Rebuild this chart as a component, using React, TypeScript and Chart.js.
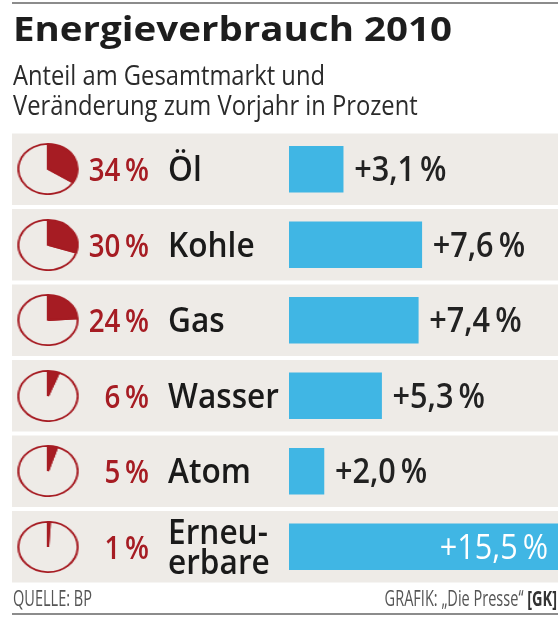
import React, { useEffect, useRef } from 'react';
import { Chart, registerables } from 'chart.js';

Chart.register(...registerables);

// ---------- data ----------
const categories: (string | string[])[] = ['Öl', 'Kohle', 'Gas', 'Wasser', 'Atom', ['Erneu-', 'erbare']];
const shares = [34, 30, 24, 6, 5, 1];
const changes = [3.1, 7.6, 7.4, 5.3, 2.0, 15.5];

const TITLE = 'Energieverbrauch 2010';
const SUBTITLE = ['Anteil am Gesamtmarkt und', 'Veränderung zum Vorjahr in Prozent'];
const SOURCE = 'QUELLE: BP';
const CREDIT = 'GRAFIK: \u201EDie Presse\u201C ';
const CREDIT_TAG = '[GK]';

// ---------- style ----------
const W = 558;
const H = 619;
const RED = '#a61c23';
const BLUE = '#40b6e4';
const ROW_BG = '#eeebe7';
const INK = '#1a1a1a';
const FONT = "'Open Sans', 'DejaVu Sans', sans-serif";
const PIE = 52;

const fmtShare = (v: number) => `${v}\u2009%`;
const fmtChange = (v: number) => '+' + v.toFixed(1).replace('.', ',') + '\u2009%';

let measureCtx: CanvasRenderingContext2D | null = null;
function measure(text: string, font: string): number {
  if (!measureCtx) measureCtx = document.createElement('canvas').getContext('2d');
  if (!measureCtx) return 1;
  measureCtx.font = font;
  return measureCtx.measureText(text).width || 1;
}

function drawText(
  ctx: CanvasRenderingContext2D,
  text: string,
  x: number,
  y: number,
  font: string,
  color: string,
  align: CanvasTextAlign,
  sx: number
) {
  ctx.save();
  ctx.font = font;
  ctx.fillStyle = color;
  ctx.textAlign = align;
  ctx.textBaseline = 'alphabetic';
  ctx.translate(x, y);
  ctx.scale(sx, 1);
  ctx.fillText(text, 0, 0);
  ctx.restore();
}

const SHARE_FONT = `600 33px ${FONT}`;
const LABEL_FONT = `600 34px ${FONT}`;
const VALUE_FONT = `600 34px ${FONT}`;

const rowsPlugin = {
  id: 'rows',
  beforeDatasetsDraw(chart: any) {
    const ctx: CanvasRenderingContext2D = chart.ctx;
    const y = chart.scales.y;
    const slot = (y.bottom - y.top) / categories.length;
    ctx.save();
    ctx.fillStyle = ROW_BG;
    categories.forEach((_, i) => {
      const cy = y.getPixelForValue(i);
      ctx.fillRect(12, cy - slot / 2 + 2, W - 12, slot - 4);
    });
    ctx.restore();
  },
  afterDatasetsDraw(chart: any) {
    const ctx: CanvasRenderingContext2D = chart.ctx;
    const y = chart.scales.y;
    const area = chart.chartArea;
    const meta = chart.getDatasetMeta(0);
    categories.forEach((cat, i) => {
      const cy = y.getPixelForValue(i);
      drawText(ctx, fmtShare(shares[i]), 149, cy + 12, SHARE_FONT, RED, 'right', 0.84);
      const lines = Array.isArray(cat) ? cat : [cat];
      lines.forEach((ln, k) => {
        drawText(ctx, ln, 168, cy + 12 + (k - (lines.length - 1) / 2) * 30, LABEL_FONT, INK, 'left', 0.93);
      });
      const bar = meta.data[i];
      const label = fmtChange(changes[i]);
      const sx = 0.9;
      const tw = measure(label, VALUE_FONT) * sx;
      const end = Math.min(bar.x, area.right);
      if (end + 12 + tw > W - 4) {
        drawText(ctx, label, end - 10, cy + 12, `500 34px ${FONT}`, '#ffffff', 'right', sx);
      } else {
        drawText(ctx, label, end + 11, cy + 12, VALUE_FONT, '#222222', 'left', sx);
      }
    });
  },
};

export default function App() {
  const mainRef = useRef<HTMLCanvasElement>(null);
  const pieRefs = useRef<(HTMLCanvasElement | null)[]>([]);
  const pieBoxRefs = useRef<(HTMLDivElement | null)[]>([]);

  useEffect(() => {
    const charts: Chart[] = [];
    if (!mainRef.current) return;
    const main = new Chart(mainRef.current, {
      type: 'bar',
      data: {
        labels: categories as any,
        datasets: [
          {
            data: changes,
            backgroundColor: BLUE,
            borderWidth: 0,
            barThickness: 46,
          },
        ],
      },
      options: {
        responsive: false,
        animation: false,
        devicePixelRatio: 1,
        events: [],
        indexAxis: 'y',
        layout: { padding: { left: 289, right: 0, top: 131.5, bottom: H - 584.5 } },
        scales: {
          x: { display: false, min: 0, max: 15.4 },
          y: { display: false },
        },
        plugins: {
          legend: { display: false },
          tooltip: { enabled: false },
        },
      } as any,
      plugins: [rowsPlugin as any],
    });
    charts.push(main);
    const yScale: any = main.scales.y;
    shares.forEach((s, i) => {
      const box = pieBoxRefs.current[i];
      if (box) box.style.top = `${yScale.getPixelForValue(i) - PIE / 2}px`;
      const cv = pieRefs.current[i];
      if (!cv) return;
      charts.push(
        new Chart(cv, {
          type: 'pie',
          data: {
            labels: ['Anteil', 'Rest'],
            datasets: [
              {
                data: [s, 100 - s],
                backgroundColor: [RED, 'rgba(0,0,0,0)'],
                borderColor: RED,
                borderWidth: 1.8,
                hoverOffset: 0,
              },
            ],
          },
          options: {
            responsive: false,
            animation: false,
            devicePixelRatio: 1,
            events: [],
            plugins: { legend: { display: false }, tooltip: { enabled: false } },
          } as any,
        })
      );
    });
    return () => charts.forEach((c) => c.destroy());
  }, []);

  const titleFont = `700 34px ${FONT}`;
  const titleScale = 439 / measure(TITLE, titleFont);
  const subFont = `400 27px ${FONT}`;
  const subScale = 312 / measure(SUBTITLE[0], subFont);
  const footFont = `400 21px ${FONT}`;
  const footScale = 79 / measure(SOURCE, footFont);

  const textBase: React.CSSProperties = {
    position: 'absolute',
    whiteSpace: 'nowrap',
    fontFamily: FONT,
    margin: 0,
  };

  return (
    <div
      style={{
        position: 'absolute',
        left: 0,
        top: 0,
        width: W,
        height: H,
        background: '#ffffff',
        overflow: 'hidden',
      }}
    >
      <div style={{ position: 'absolute', left: 12, top: 2, width: W - 12, height: 2, background: '#8c8c8c' }} />
      <canvas ref={mainRef} width={W} height={H} style={{ position: 'absolute', left: 0, top: 0 }} />
      {shares.map((_, i) => (
        <div
          key={i}
          ref={(el) => {
            pieBoxRefs.current[i] = el;
          }}
          style={{
            position: 'absolute',
            left: 47.5 - PIE / 2,
            top: 0,
            width: PIE,
            height: PIE,
            transform: 'scaleX(1.18)',
            transformOrigin: 'center',
          }}
        >
          <canvas
            ref={(el) => {
              pieRefs.current[i] = el;
            }}
            width={PIE}
            height={PIE}
          />
        </div>
      ))}
      <div
        style={{
          ...textBase,
          left: 13,
          top: 10.8,
          fontSize: 34,
          lineHeight: '34px',
          fontWeight: 700,
          color: '#1d1d1d',
          transform: `scaleX(${titleScale})`,
          transformOrigin: 'left center',
        }}
      >
        {TITLE}
      </div>
      {SUBTITLE.map((line, k) => (
        <div
          key={k}
          style={{
            ...textBase,
            left: 13,
            top: 61 + k * 30,
            fontSize: 27,
            lineHeight: '27px',
            fontWeight: 400,
            color: '#2b2b2b',
            transform: `scaleX(${subScale})`,
            transformOrigin: 'left center',
          }}
        >
          {line}
        </div>
      ))}
      <div
        style={{
          ...textBase,
          left: 13,
          top: 588.4,
          fontSize: 21,
          lineHeight: '21px',
          color: '#555555',
          transform: `scaleX(${footScale})`,
          transformOrigin: 'left center',
        }}
      >
        {SOURCE}
      </div>
      <div
        style={{
          ...textBase,
          right: 1,
          top: 588.4,
          fontSize: 21,
          lineHeight: '21px',
          color: '#555555',
          transform: `scaleX(${footScale})`,
          transformOrigin: 'right center',
        }}
      >
        {CREDIT}
        <span style={{ fontWeight: 700, color: '#333333' }}>{CREDIT_TAG}</span>
      </div>
      <div style={{ position: 'absolute', left: 12, top: 613, width: W - 12, height: 2, background: '#8c8c8c' }} />
    </div>
  );
}
